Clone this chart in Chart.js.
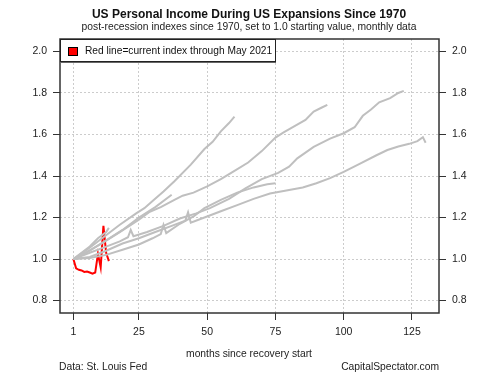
<!DOCTYPE html>
<html lang="en">
<head>
<meta charset="UTF-8">
<title>US Personal Income During US Expansions Since 1970</title>
<script src="https://cdn.jsdelivr.net/npm/chart.js"></script>
<style>
  body { margin: 0; background: #fff; }
  #wrap { width: 500px; height: 375px; }
</style>
</head>
<body>
<div id="wrap"><canvas id="incomeChart" width="500" height="375"></canvas></div>
<script>
// tick labels
const xTicks = [1, 25, 50, 75, 100, 125];
const yTicks = [0.8, 1.0, 1.2, 1.4, 1.6, 1.8, 2.0];

// past expansions (months since trough, index value)
const months1970 = [1, 7, 13, 19, 25, 31, 37];
const index1970 = [1.00, 1.04, 1.09, 1.14, 1.20, 1.25, 1.31];

const months1975 = [1, 6, 12, 18, 24, 27, 30, 34, 38, 44, 49, 52, 55, 58, 60];
const index1975 = [1.00, 1.045, 1.105, 1.165, 1.22, 1.245, 1.28, 1.325, 1.375, 1.455, 1.53, 1.565, 1.615, 1.655, 1.686];

const months1980 = [1, 4, 7, 10, 13, 14];
const index1980 = [1.00, 1.03, 1.06, 1.10, 1.13, 1.15];

const months1982 = [1, 6, 12, 18, 25, 29, 33, 38, 41, 45, 50, 55, 60, 65, 70, 75, 78, 82, 86, 89, 92, 94];
const index1982 = [1.00, 1.035, 1.08, 1.13, 1.19, 1.228, 1.25, 1.285, 1.305, 1.32, 1.35, 1.385, 1.425, 1.465, 1.52, 1.585, 1.61, 1.64, 1.67, 1.71, 1.73, 1.743];

const months1991 = [1, 7, 13, 18, 21, 22, 23, 28, 34, 40, 46, 51, 58, 64, 70, 76, 80, 83, 89, 95, 100, 104, 107, 110, 113, 117, 120, 122];
const index1991 = [1.00, 1.03, 1.06, 1.085, 1.105, 1.14, 1.11, 1.13, 1.16, 1.195, 1.22, 1.245, 1.29, 1.34, 1.385, 1.415, 1.445, 1.485, 1.54, 1.58, 1.606, 1.635, 1.69, 1.72, 1.755, 1.775, 1.80, 1.81];

const months2001 = [1, 7, 13, 19, 25, 30, 33, 34, 35, 40, 45, 49, 55, 61, 67, 72, 75];
const index2001 = [1.00, 1.005, 1.02, 1.045, 1.07, 1.10, 1.12, 1.165, 1.125, 1.17, 1.205, 1.245, 1.285, 1.32, 1.345, 1.36, 1.365];

const months2009 = [1, 7, 13, 19, 25, 31, 37, 42, 43, 44, 49, 55, 61, 67, 73, 79, 85, 90, 95, 100, 106, 112, 116, 120, 124, 127, 129, 130];
const index2009 = [1.00, 1.01, 1.04, 1.075, 1.10, 1.13, 1.16, 1.185, 1.225, 1.175, 1.20, 1.23, 1.26, 1.29, 1.316, 1.33, 1.345, 1.365, 1.39, 1.42, 1.46, 1.50, 1.525, 1.542, 1.555, 1.568, 1.587, 1.56];

// current expansion, Apr 2020 - May 2021
const monthsNow = [1, 2, 3, 4, 5, 6, 7, 8, 9, 10, 11, 12, 13, 14];
const indexNow = [1.00, 0.955, 0.948, 0.945, 0.938, 0.94, 0.935, 0.93, 0.935, 1.025, 0.96, 1.16, 1.03, 0.99];

const pastRuns = [
  [months1970, index1970], [months1975, index1975], [months1980, index1980],
  [months1982, index1982], [months1991, index1991], [months2001, index2001],
  [months2009, index2009]
];

const toPoints = (m, v) => m.map((x, i) => ({ x: x, y: v[i] }));

const datasets = pastRuns.map(([m, v]) => ({
  data: toPoints(m, v),
  borderColor: '#bfbfbf',
  borderWidth: 2,
  pointRadius: 0,
  tension: 0,
  showLine: true
}));
datasets.push({
  data: toPoints(monthsNow, indexNow),
  borderColor: '#ff0000',
  borderWidth: 2,
  pointRadius: 0,
  tension: 0,
  showLine: true
});

const FONT = '"Liberation Sans", Arial, Helvetica, sans-serif';

// titles, legend, footnotes and the plot box
const decorations = {
  id: 'decorations',
  afterDraw(chart) {
    const ctx = chart.ctx;
    const a = chart.chartArea;
    ctx.save();
    ctx.fillStyle = '#111';
    ctx.textAlign = 'center';
    ctx.textBaseline = 'middle';
    ctx.font = 'bold 12px ' + FONT;
    ctx.fillText('US Personal Income During US Expansions Since 1970', 249, 15);
    ctx.font = '10.3px ' + FONT;
    ctx.fillStyle = '#222';
    ctx.fillText('post-recession indexes since 1970, set to 1.0 starting value, monthly data', 249, 27);
    ctx.fillText('months since recovery start', 249, 354);
    ctx.textAlign = 'left';
    ctx.fillText('Data: St. Louis Fed', 59, 367);
    ctx.textAlign = 'right';
    ctx.fillText('CapitalSpectator.com', 439, 367);

    // plot box
    ctx.strokeStyle = '#333';
    ctx.lineWidth = 1.5;
    ctx.strokeRect(a.left, a.top, a.right - a.left, a.bottom - a.top);

    // legend
    ctx.fillStyle = '#666';
    ctx.fillRect(61, 41, 215, 22);
    ctx.fillStyle = '#fff';
    ctx.fillRect(a.left, a.top, 215, 22);
    ctx.strokeStyle = '#222';
    ctx.lineWidth = 1;
    ctx.strokeRect(a.left + 0.5, a.top + 0.5, 215, 22);
    ctx.fillStyle = '#ff0000';
    ctx.fillRect(68, 47, 9, 8);
    ctx.strokeStyle = '#000';
    ctx.strokeRect(68.5, 47.5, 9, 8);
    ctx.fillStyle = '#111';
    ctx.textAlign = 'left';
    ctx.font = '10.2px ' + FONT;
    ctx.fillText('Red line=current index through May 2021', 85, 51);
    ctx.restore();
  }
};

const yAxis = (position, width) => ({
  type: 'linear',
  position: position,
  min: 0.74,
  max: 2.06,
  afterBuildTicks: (s) => { s.ticks = yTicks.map(v => ({ value: v })); },
  afterFit: (s) => { s.width = width; },
  border: { display: false, dash: [2, 2] },
  grid: {
    drawOnChartArea: position === 'left',
    color: '#cccccc',
    tickColor: '#333',
    tickLength: 7,
    tickBorderDash: []
  },
  ticks: {
    padding: 6,
    color: '#222',
    font: { family: FONT, size: 10.5 },
    callback: (v) => v.toFixed(1)
  }
});

new Chart(document.getElementById('incomeChart'), {
  type: 'scatter',
  data: { datasets: datasets },
  options: {
    responsive: false,
    animation: false,
    devicePixelRatio: 1,
    layout: { padding: { top: 39, left: 0, right: 0, bottom: 0 } },
    plugins: {
      legend: { display: false },
      tooltip: { enabled: false }
    },
    scales: {
      x: {
        type: 'linear',
        min: -3.9,
        max: 134.9,
        afterBuildTicks: (s) => { s.ticks = xTicks.map(v => ({ value: v })); },
        afterFit: (s) => { s.height = 62; },
        border: { display: false, dash: [2, 2] },
        grid: {
          color: '#cccccc',
          tickColor: '#333',
          tickLength: 7,
          tickBorderDash: []
        },
        ticks: {
          padding: 6,
          maxRotation: 0,
          color: '#222',
          font: { family: FONT, size: 10.5 },
          callback: (v) => String(v)
        }
      },
      y: yAxis('left', 60),
      y2: yAxis('right', 61)
    }
  },
  plugins: [decorations]
});
</script>
</body>
</html>
